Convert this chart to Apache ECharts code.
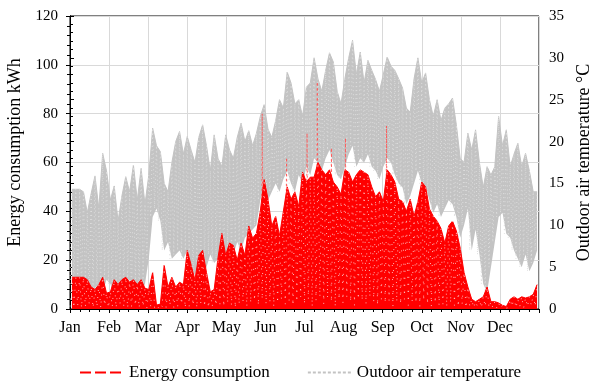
<!DOCTYPE html>
<html>
<head>
<meta charset="utf-8">
<script src="https://cdn.jsdelivr.net/npm/echarts@6/dist/echarts.min.js"></script>
<style>
  html, body { margin: 0; padding: 0; background: #fff; }
  #chart { width: 589px; height: 381px; }
</style>
</head>
<body>
<div id="chart"></div>
<script>
// month labels, one per month start
const months = ["Jan", "Feb", "Mar", "Apr", "May", "Jun", "Jul", "Aug", "Sep", "Oct", "Nov", "Dec"];

// values, one per 3-day block (122 blocks)
const tempHigh = [
  14.3, 14.3, 14.3, 14.0, 11.5, 13.8, 15.9, 12.0, 18.6, 16.5,
  13.0, 14.7, 10.5, 13.5, 15.8, 14.0, 17.2, 13.0, 16.8, 12.5,
  16.0, 21.6, 19.5, 18.8, 15.0, 14.0, 17.5, 20.0, 21.2, 18.5,
  20.6, 19.0, 17.5, 20.5, 22.0, 19.5, 16.5, 20.8, 18.0, 17.0,
  20.8, 19.0, 18.0, 20.5, 22.2, 20.0, 21.3, 19.5, 21.0, 23.0,
  24.4, 21.5, 20.5, 22.5, 25.0, 24.0, 28.3, 27.0, 24.5, 25.0,
  23.0, 26.5, 27.0, 30.0, 27.5, 26.0, 28.5, 30.6, 29.5, 26.0,
  24.5, 27.5, 30.0, 32.1, 28.0, 30.7, 27.0, 29.7, 28.5, 27.4,
  26.0, 28.0, 30.1, 29.0, 28.5, 27.5, 26.4, 24.0, 23.5, 27.5,
  30.0, 27.0, 28.2, 25.0, 23.0, 25.0, 22.5, 24.0, 24.5, 25.2,
  22.0, 18.0, 17.5, 21.0, 19.0, 21.4, 17.5, 14.5, 17.0, 16.0,
  17.0, 23.0, 19.5, 21.4, 17.0, 18.5, 19.8, 17.0, 18.6, 16.5,
  14.0, 14.0
];
const tempLow = [
  3.0, 2.5, 3.5, 2.0, 3.0, 1.5, 2.5, 3.0, 2.0, 3.5,
  3.0, 1.5, 2.5, 3.5, 3.0, 3.5, 1.0, 3.0, 2.0, 3.0,
  6.0, 11.0, 12.0, 10.5, 7.0, 8.0, 6.0, 6.5, 7.0, 6.0,
  7.0, 5.0, 4.0, 5.5, 4.0, 5.0, 6.5, 5.5, 6.0, 7.0,
  6.0, 7.5, 6.5, 8.0, 7.0, 8.5, 9.0, 9.5, 10.0, 13.0,
  14.5, 13.0, 14.0, 15.0, 14.0, 15.5, 16.5, 15.0, 14.0, 16.0,
  15.0, 17.0, 16.0, 18.0, 17.5, 16.5, 18.0, 19.0, 17.5, 16.0,
  15.5, 17.0, 18.5, 19.5, 17.0, 18.0, 17.5, 18.5, 17.0, 16.5,
  15.5, 17.0, 18.0, 17.5, 16.0, 15.0, 14.5, 12.5, 13.5, 15.0,
  16.5, 15.0, 14.5, 13.0, 11.5, 12.5, 11.0, 12.0, 13.0, 12.5,
  11.0, 8.5, 10.0, 12.0, 7.0, 9.5, 6.5, 3.0, 2.0, 5.0,
  8.0, 11.0, 11.5, 9.0, 8.5, 7.0, 6.0, 5.0, 6.5, 4.5,
  5.5, 7.0
];
const energyHigh = [
  13, 13, 13, 13, 12, 9, 8, 10, 13, 6.5,
  7, 12, 10, 12, 13, 11, 12, 10, 12, 8.5,
  8, 15, 1.6, 2, 18, 9, 13, 9, 11, 10,
  24, 18, 12, 22, 24, 15, 7, 8, 21, 31,
  22, 27, 26, 20, 27, 22, 34, 29, 31, 40,
  53, 45, 34, 38, 30, 40, 50, 45, 48, 42,
  56, 52, 54, 54, 60, 57, 55, 57, 52, 50,
  47, 57, 56, 52, 55, 57, 56, 55, 50, 46,
  48, 44, 57, 55, 52, 45, 44, 40, 45, 38,
  44, 52, 50, 41, 38, 36, 33, 27, 34, 36,
  32, 25, 15, 9, 4, 3, 4, 5, 9, 3,
  3, 2.5, 1.5, 1, 4, 5, 4, 5, 4.5, 5,
  6, 10
];
const energyLow = [
  1.0, 0.5, 1.5, 0.5, 1.0, 2.0, 0.5, 1.0, 0.5, 1.5,
  0.5, 1.0, 0.5, 2.0, 1.0, 0.5, 1.0, 1.5, 0.5, 1.0,
  0.5, 1.0, 0.5, 0.5, 1.0, 0.5, 1.5, 0.5, 1.0, 2.0,
  0.5, 1.0, 1.5, 0.5, 2.0, 1.0, 0.5, 1.0, 1.5, 2.0,
  1.0, 2.5, 1.5, 0.5, 2.0, 3.0, 1.0, 2.5, 3.5, 1.5,
  4.0, 2.0, 3.0, 1.0, 2.5, 4.0, 2.0, 3.5, 1.5, 3.0,
  5.0, 2.0, 4.0, 1.0, 3.5, 5.0, 2.0, 4.5, 3.0, 1.0,
  4.0, 2.5, 5.0, 3.0, 1.5, 4.0, 3.5, 2.0, 5.0, 3.0,
  1.5, 4.0, 2.5, 3.5, 1.0, 3.0, 2.0, 4.0, 1.5, 3.0,
  2.5, 1.0, 3.5, 2.0, 1.0, 2.5, 1.5, 2.0, 1.0, 2.5,
  1.5, 1.0, 2.0, 0.5, 1.0, 0.5, 1.0, 0.5, 1.0, 0.5,
  0.5, 0.5, 0.3, 0.2, 0.5, 1.0, 0.5, 1.0, 0.5, 1.0,
  1.5, 1.0
];
// isolated hourly spikes of energy (day of year, kWh)
const spikeDays = [150, 169, 185, 193, 204, 215, 247];
const spikeValues = [80, 62, 72, 93, 66, 70, 75];

const blockDays = 3;
const blocks = tempHigh.map((_, i) => String(i * blockDays));

// alternating low/high trace for the hourly texture (day axis)
function zigzag(lows, highs) {
    const pts = [];
    for (let i = 0; i < lows.length; i++) {
        pts.push([i * blockDays, lows[i]]);
        pts.push([i * blockDays + blockDays / 2, highs[i]]);
    }
    return pts;
}

const spikeData = [];
spikeDays.forEach((d, k) => {
    spikeData.push([d - 0.4, 30], [d, spikeValues[k]], [d + 0.4, 30], null);
});

const font = "Liberation Serif";
const grey = "#c3c3c3";
const red = "#ff0000";
const chart = echarts.init(document.getElementById("chart"));

chart.setOption({
    animation: false,
    textStyle: { fontFamily: font, color: "#000" },
    grid: {
        left: 70,
        right: 50,
        top: 16,
        bottom: 72,
        outerBoundsMode: "none",
        show: true,
        borderColor: "#000",
        borderWidth: 1,
    },
    legend: {
        left: 74,
        top: 359,
        itemWidth: 44,
        itemHeight: 10,
        itemGap: 37,
        textStyle: { fontFamily: font, fontSize: 17, color: "#000" },
        data: [
            {
                name: "Energy consumption",
                itemStyle: { opacity: 0 },
                lineStyle: { color: red, width: 2, type: [11, 4] },
            },
            {
                name: "Outdoor air temperature",
                itemStyle: { opacity: 0 },
                lineStyle: { color: grey, width: 2, type: [3, 2] },
            },
        ],
    },
    xAxis: [
        {
            // 3-day blocks that carry the bands
            type: "category",
            data: blocks,
            boundaryGap: true,
            show: false,
        },
        {
            // month axis for labels and grid
            type: "value",
            min: 0,
            max: 12,
            interval: 1,
            position: "bottom",
            axisLine: { lineStyle: { color: "#000" } },
            axisTick: { length: 4, lineStyle: { color: "#000" } },
            minorTick: { show: true, splitNumber: 4, length: 3, lineStyle: { color: "#000" } },
            axisLabel: {
                margin: 11,
                fontSize: 16,
                color: "#000",
                fontFamily: font,
                showMaxLabel: false,
                formatter: (v) => months[v] || "",
            },
            splitLine: { show: true, lineStyle: { color: "#d9d9d9" } },
        },
        {
            // day-of-year axis for the trace and spikes
            type: "value",
            min: 0,
            max: 366,
            show: false,
        },
    ],
    yAxis: [
        {
            type: "value",
            min: 0,
            max: 120,
            interval: 20,
            name: "Energy consumption kWh",
            nameLocation: "middle",
            nameGap: 42,
            nameTextStyle: { fontFamily: font, fontSize: 18, color: "#000", padding: [0, 0, 0, 20] },
            axisLine: { show: true, lineStyle: { color: "#000" } },
            axisTick: { show: true, length: 4, lineStyle: { color: "#000" } },
            minorTick: { show: true, splitNumber: 5, length: 3, lineStyle: { color: "#000" } },
            axisLabel: { margin: 12, fontSize: 15, color: "#000", fontFamily: font },
            splitLine: { show: true, lineStyle: { color: "#d9d9d9" } },
        },
        {
            type: "value",
            min: 0,
            max: 35,
            interval: 5,
            position: "right",
            name: "Outdoor air temperature °C",
            nameLocation: "middle",
            nameGap: 34,
            nameRotate: 90,
            nameTextStyle: { fontFamily: font, fontSize: 18, color: "#000" },
            axisLine: { show: true, lineStyle: { color: "#000" } },
            axisTick: { show: true, length: 4, lineStyle: { color: "#000" } },
            minorTick: { show: true, splitNumber: 5, length: 3, lineStyle: { color: "#000" } },
            axisLabel: { margin: 10, fontSize: 15, color: "#000", fontFamily: font },
            splitLine: { show: false },
        },
    ],
    series: [
        {
            name: "Energy consumption",
            type: "line",
            xAxisIndex: 0,
            yAxisIndex: 0,
            data: energyHigh,
            symbol: "none",
            z: 5,
            lineStyle: { color: red, width: 1 },
            itemStyle: { color: red },
            areaStyle: { color: red, opacity: 1 },
        },
        {
            name: "energy-trace",
            type: "line",
            xAxisIndex: 2,
            yAxisIndex: 0,
            data: zigzag(energyLow, energyHigh),
            symbol: "none",
            z: 6,
            lineStyle: { color: "rgba(255,255,255,0.7)", width: 1, type: [1, 6] },
        },
        {
            name: "energy-spikes",
            type: "line",
            xAxisIndex: 2,
            yAxisIndex: 0,
            data: spikeData,
            symbol: "none",
            z: 4,
            lineStyle: { color: "#ff5a5a", width: 1, type: [2, 3] },
        },
        {
            name: "temp-base",
            type: "line",
            xAxisIndex: 0,
            yAxisIndex: 1,
            data: tempLow,
            stack: "temp",
            symbol: "none",
            z: 2,
            lineStyle: { width: 0 },
        },
        {
            name: "Outdoor air temperature",
            type: "line",
            xAxisIndex: 0,
            yAxisIndex: 1,
            data: tempHigh.map((v, i) => v - tempLow[i]),
            stack: "temp",
            symbol: "none",
            z: 2,
            lineStyle: { color: grey, width: 1 },
            itemStyle: { color: grey },
            areaStyle: { color: grey, opacity: 1 },
        },
        {
            name: "temp-trace",
            type: "line",
            xAxisIndex: 2,
            yAxisIndex: 1,
            data: zigzag(tempLow, tempHigh),
            symbol: "none",
            z: 3,
            lineStyle: { color: "#dedede", width: 1, type: [1, 3] },
        },
    ],
});
</script>
</body>
</html>
